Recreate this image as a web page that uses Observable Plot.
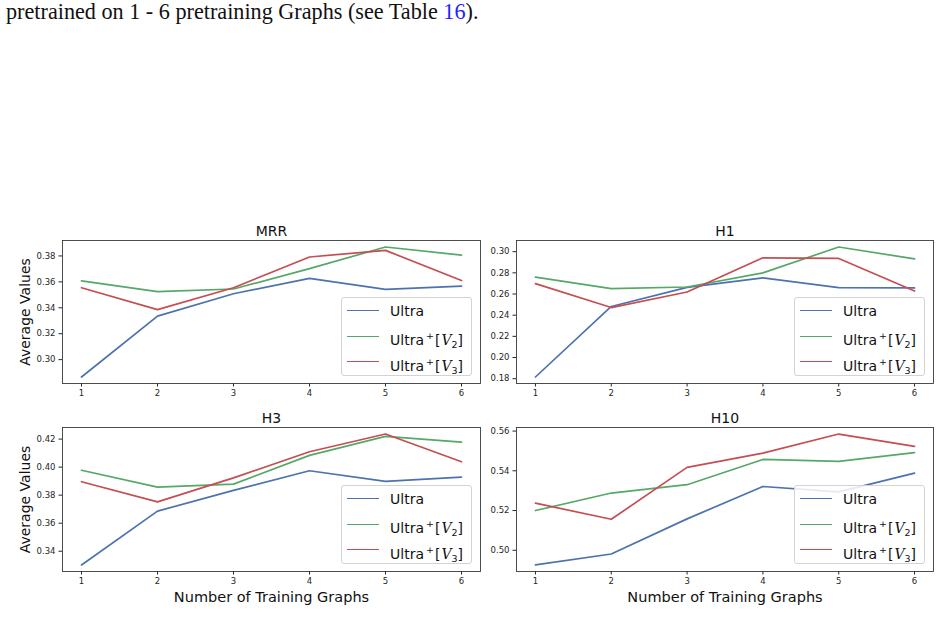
<!DOCTYPE html>
<html>
<head>
<meta charset="utf-8">
<script src="https://cdn.jsdelivr.net/npm/d3@7"></script>
<script src="https://cdn.jsdelivr.net/npm/@observablehq/plot@0.6"></script>
<style>
  html, body { margin: 0; padding: 0; background: #fff; }
  #page { position: relative; width: 940px; height: 636px; overflow: hidden; }
  #lead { position: absolute; left: 6px; top: -1px; font-family: "Liberation Serif", serif; font-size: 22.2px; color: #111; white-space: nowrap; }
  #lead .ref { color: #1f1fff; }
  .panel { position: absolute; }
  .legend { position: absolute; box-sizing: border-box; border: 1px solid #d3d3d3; border-radius: 3px; background: rgba(255,255,255,0.85); font-family: "DejaVu Sans", sans-serif; font-size: 14px; color: #111; }
  .legend .row { position: absolute; left: 0; height: 0; }
  .legend .swatch { position: absolute; left: 5px; width: 32px; height: 0; border-top: 1.8px solid; top: -0.9px; }
  .legend .lab { position: absolute; left: 48px; top: -9px; white-space: nowrap; line-height: 18px; }
  .legend sup { font-size: 9.5px; vertical-align: 6px; margin-left: 2px; margin-right: 1px; }
  .legend sub { font-size: 9.5px; vertical-align: -3px; margin-left: -1px; }
  .legend .cal { font-family: "DejaVu Serif", serif; font-style: italic; margin: 0 1px; }
</style>
</head>
<body>
<div id="page">
  <div id="lead">pretrained on 1 - 6 pretraining Graphs (see Table <span class="ref">16</span>).</div>
</div>
<script>
// Number of pretraining graphs on the x axis
const graphs = [1, 2, 3, 4, 5, 6];
const seriesNames = ["Ultra", "Ultra+[V2]", "Ultra+[V3]"];
const seriesColors = ["#4C72B0", "#55A868", "#C44E52"];

// MRR
const mrrUltra = [0.2866, 0.3336, 0.3508, 0.3627, 0.3542, 0.3567];
const mrrV2    = [0.3607, 0.3525, 0.3545, 0.3702, 0.3869, 0.3807];
const mrrV3    = [0.3555, 0.3386, 0.3555, 0.3792, 0.3843, 0.3610];
const mrrTicks = [0.30, 0.32, 0.34, 0.36, 0.38];

// Hits@1
const h1Ultra = [0.1816, 0.2482, 0.2663, 0.2753, 0.2660, 0.2657];
const h1V2    = [0.2759, 0.2650, 0.2666, 0.2800, 0.3044, 0.2932];
const h1V3    = [0.2698, 0.2472, 0.2619, 0.2942, 0.2936, 0.2628];
const h1Ticks = [0.18, 0.20, 0.22, 0.24, 0.26, 0.28, 0.30];

// Hits@3
const h3Ultra = [0.3302, 0.3686, 0.3834, 0.3974, 0.3898, 0.3929];
const h3V2    = [0.3978, 0.3857, 0.3879, 0.4084, 0.4219, 0.4178];
const h3V3    = [0.3896, 0.3752, 0.3923, 0.4110, 0.4236, 0.4038];
const h3Ticks = [0.34, 0.36, 0.38, 0.40, 0.42];

// Hits@10
const h10Ultra = [0.4926, 0.4981, 0.5158, 0.5321, 0.5294, 0.5388];
const h10V2    = [0.5200, 0.5288, 0.5330, 0.5457, 0.5447, 0.5491];
const h10V3    = [0.5237, 0.5156, 0.5417, 0.5489, 0.5585, 0.5523];
const h10Ticks = [0.50, 0.52, 0.54, 0.56];

const panels = [
  {title: "MRR", series: [mrrUltra, mrrV2, mrrV3], ticks: mrrTicks, col: 0, row: 0},
  {title: "H1",  series: [h1Ultra, h1V2, h1V3],    ticks: h1Ticks,  col: 1, row: 0},
  {title: "H3",  series: [h3Ultra, h3V2, h3V3],    ticks: h3Ticks,  col: 0, row: 1},
  {title: "H10", series: [h10Ultra, h10V2, h10V3], ticks: h10Ticks, col: 1, row: 1}
];

// Grid geometry (left column carries the y label, bottom row the x label)
const cols = [
  {left: 0,   width: 490, marginLeft: 62, marginRight: 10},
  {left: 480, width: 460, marginLeft: 36, marginRight: 7}
];
const rows = [
  {top: 215, height: 185, marginTop: 25, marginBottom: 17},
  {top: 400, height: 210, marginTop: 27, marginBottom: 39}
];

// 5% padding around the data, like the default autoscale
function padded(values) {
  const [lo, hi] = d3.extent(values);
  const m = (hi - lo) * 0.05;
  return [lo - m, hi + m];
}

const page = document.getElementById("page");

for (const p of panels) {
  const c = cols[p.col], r = rows[p.row];
  const data = [];
  p.series.forEach((vals, i) => vals.forEach((v, j) => data.push({n: graphs[j], v, s: seriesNames[i]})));

  const marks = [
    Plot.axisX({ticks: graphs, tickFormat: d => String(d), tickSize: 3.5, tickPadding: 3, label: null, fontSize: 8.5}),
    Plot.axisY({ticks: p.ticks, tickFormat: d3.format(".2f"), tickSize: 3.5, tickPadding: 3.5, label: null, fontSize: 8.5}),
    Plot.line(data, {x: "n", y: "v", z: "s", stroke: "s", strokeWidth: 1.7}),
    Plot.frame({stroke: "#3a3a3a", strokeWidth: 0.9}),
    Plot.text([p.title], {frameAnchor: "top", lineAnchor: "bottom", dy: -5, fontSize: 14, fill: "#111"})
  ];
  if (p.col === 0) {
    marks.push(Plot.text(["Average Values"], {frameAnchor: "left", textAnchor: "middle", lineAnchor: "middle", rotate: -90, dx: -37, fontSize: 14, fill: "#111"}));
  }
  if (p.row === 1) {
    marks.push(Plot.text(["Number of Training Graphs"], {frameAnchor: "bottom", lineAnchor: "middle", dy: 26, fontSize: 14.5, fill: "#111"}));
  }

  const chart = Plot.plot({
    width: c.width,
    height: r.height,
    marginLeft: c.marginLeft,
    marginRight: c.marginRight,
    marginTop: r.marginTop,
    marginBottom: r.marginBottom,
    style: {fontFamily: "DejaVu Sans", fontSize: "8.5px", color: "#262626", background: "transparent", overflow: "visible"},
    x: {domain: [0.75, 6.25]},
    y: {domain: padded(p.series.flat())},
    color: {domain: seriesNames, range: seriesColors},
    marks
  });
  chart.classList.add("panel");
  chart.style.left = c.left + "px";
  chart.style.top = r.top + "px";
  page.appendChild(chart);

  // Legend in the lower-right corner of the axes
  const frameRight = c.left + c.width - c.marginRight;
  const frameBottom = r.top + r.height - r.marginBottom;
  const lw = 131, lh = 79;
  const legend = document.createElement("div");
  legend.className = "legend";
  legend.style.left = (frameRight - 8 - lw) + "px";
  legend.style.top = (frameBottom - 7 - lh) + "px";
  legend.style.width = lw + "px";
  legend.style.height = lh + "px";
  const labels = [
    "Ultra",
    'Ultra<sup>+</sup>[<span class="cal">V</span><sub>2</sub>]',
    'Ultra<sup>+</sup>[<span class="cal">V</span><sub>3</sub>]'
  ];
  labels.forEach((html, i) => {
    const row = document.createElement("div");
    row.className = "row";
    row.style.top = (13 + i * 25.4) + "px";
    row.innerHTML = `<div class="swatch" style="border-color:${seriesColors[i]}"></div><div class="lab">${html}</div>`;
    legend.appendChild(row);
  });
  page.appendChild(legend);
}
</script>
</body>
</html>
